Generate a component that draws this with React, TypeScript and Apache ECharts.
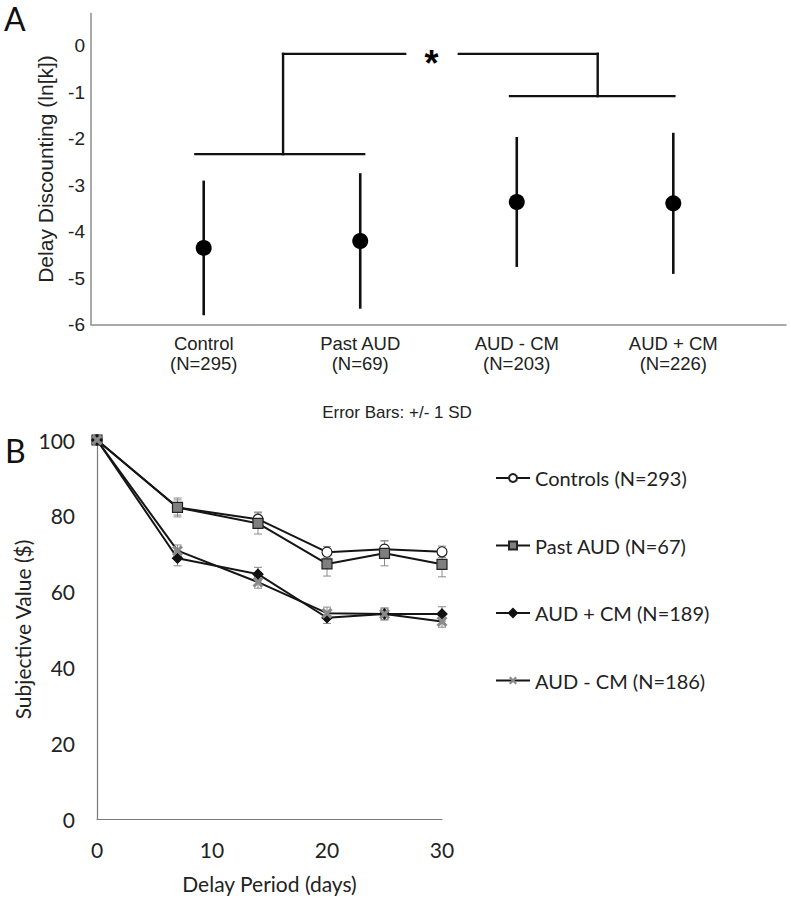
import React, { useEffect, useRef } from "react";
import * as echarts from "echarts";

// ---------- Panel A data ----------
const aGroups = ["Control", "Past AUD", "AUD - CM", "AUD + CM"];
const aN = [295, 69, 203, 226];
const aPositions = [1, 2, 3, 4];
const aMeans = [-4.35, -4.2, -3.36, -3.39];
const aSD = [1.45, 1.46, 1.4, 1.52];
const aYTicks = [-6, -5, -4, -3, -2, -1, 0];
// significance bracket segments [x1, y1, x2, y2] in data units
const bracketSegments = [
  [0.947, -2.33, 2.025, -2.33],
  [1.507, -2.33, 1.507, -0.17],
  [1.507, -0.17, 2.287, -0.17],
  [2.63, -0.17, 3.517, -0.17],
  [3.517, -0.17, 3.517, -1.08],
  [2.957, -1.08, 4.007, -1.08],
];
const starPos = [2.455, -0.38];

// ---------- Panel B data ----------
const bDays = [0, 7, 14, 20, 25, 30];
const bSeriesNames = ["Controls (N=293)", "Past AUD (N=67)", "AUD + CM (N=189)", "AUD - CM (N=186)"];
const controls = [100, 82.2, 79.1, 70.4, 71.2, 70.5];
const pastAUD = [100, 82.2, 78.0, 67.3, 70.1, 67.2];
const audPlusCM = [100, 68.8, 64.6, 53.1, 54.1, 54.1];
const audMinusCM = [100, 70.8, 62.5, 54.3, 54.1, 52.1];
const controlsErr = [0, 2.0, 1.9, 1.5, 2.2, 1.5];
const pastAUDErr = [0, 2.5, 2.8, 3.2, 3.3, 3.3];
const audPlusCMErr = [0, 2.0, 1.8, 1.5, 1.5, 1.9];
const audMinusCMErr = [0, 1.5, 1.6, 1.6, 1.6, 1.5];

const bValues = [controls, pastAUD, audPlusCM, audMinusCM];
const bErrors = [controlsErr, pastAUDErr, audPlusCMErr, audMinusCMErr];

const crossPath =
  "path://M2,0 L5,3 L8,0 L10,2 L7,5 L10,8 L8,10 L5,7 L2,10 L0,8 L3,5 L0,2 Z";
const bSymbols = ["circle", "rect", "diamond", crossPath];
const bFills = ["#ffffff", "#7f7f7f", "#111111", "#8a8a8a"];
const bBorders = ["#222222", "#222222", "#111111", "#8a8a8a"];
const bSizes = [10, 10, 10, 11];

const ARIAL = "'Liberation Sans', Arial, sans-serif";
const LATO = "Lato, sans-serif";

export default function App() {
  const ref = useRef<HTMLDivElement>(null);

  useEffect(() => {
    if (!ref.current) return;
    const chart = echarts.init(ref.current, null, { renderer: "svg" });

    const aErrData = aPositions.map((p, i) => [p, aMeans[i] - aSD[i], aMeans[i] + aSD[i]]);
    const bErrData: number[][] = [];
    bValues.forEach((vals, s) => {
      bDays.forEach((d, i) => {
        if (bErrors[s][i] > 0) bErrData.push([d, vals[i] - bErrors[s][i], vals[i] + bErrors[s][i]]);
      });
    });

    const option: any = {
      animation: false,
      backgroundColor: "#ffffff",
      grid: [
        { left: 91, top: 13.5, width: 695, height: 311, containLabel: false },
        { left: 97, top: 440, width: 345, height: 379, containLabel: false },
      ],
      xAxis: [
        {
          type: "value",
          gridIndex: 0,
          min: 0.28,
          max: 4.72,
          axisLine: { show: true, onZero: false, lineStyle: { color: "#8c8c8c", width: 1.5 } },
          axisTick: { show: false },
          splitLine: { show: false },
          axisLabel: {
            customValues: aPositions,
            formatter: (v: number) => {
              const i = aPositions.indexOf(v);
              return i >= 0 ? `${aGroups[i]}\n(N=${aN[i]})` : "";
            },
            fontFamily: ARIAL,
            fontSize: 18.5,
            lineHeight: 20,
            color: "#222",
            margin: 9,
          },
        },
        {
          type: "value",
          gridIndex: 1,
          min: 0,
          max: 30,
          interval: 10,
          axisLine: { show: true, onZero: false, lineStyle: { color: "#7a7a7a", width: 1.2 } },
          axisTick: { show: false },
          splitLine: { show: false },
          axisLabel: { fontFamily: LATO, fontSize: 21, color: "#222", margin: 20 },
          name: "Delay Period (days)",
          nameLocation: "middle",
          nameGap: 54,
          nameTextStyle: { fontFamily: LATO, fontSize: 21, color: "#222" },
        },
      ],
      yAxis: [
        {
          type: "value",
          gridIndex: 0,
          min: -6,
          max: 0.7,
          interval: 1,
          axisLine: { show: true, onZero: false, lineStyle: { color: "#8c8c8c", width: 1.5 } },
          axisTick: { show: false },
          splitLine: { show: false },
          axisLabel: {
            customValues: aYTicks,
            formatter: (v: number) => (Number.isInteger(v) ? String(v) : ""),
            fontFamily: ARIAL,
            fontSize: 19,
            color: "#222",
            margin: 6,
          },
          name: "Delay Discounting (ln[k])",
          nameLocation: "middle",
          nameRotate: 90,
          nameGap: 35,
          nameTextStyle: { fontFamily: ARIAL, fontSize: 21, color: "#222" },
        },
        {
          type: "value",
          gridIndex: 1,
          min: 0,
          max: 100,
          interval: 20,
          axisLine: { show: true, onZero: false, lineStyle: { color: "#7a7a7a", width: 1.2 } },
          axisTick: { show: false },
          splitLine: { show: false },
          axisLabel: { fontFamily: LATO, fontSize: 21, color: "#222", margin: 22 },
          name: "Subjective Value ($)",
          nameLocation: "middle",
          nameRotate: 90,
          nameGap: 64,
          nameTextStyle: { fontFamily: LATO, fontSize: 21, color: "#222" },
        },
      ],
      legend: {
        data: bSeriesNames,
        orient: "vertical",
        left: 495,
        top: 466,
        padding: 0,
        itemWidth: 34,
        itemHeight: 10,
        itemGap: 43.5,
        textStyle: { fontFamily: LATO, fontSize: 20, color: "#222", lineHeight: 24 },
      },
      graphic: [
        {
          type: "text",
          left: 4,
          top: 2,
          style: { text: "A", font: `32px ${LATO}`, fill: "#111" },
        },
        {
          type: "text",
          left: 5,
          top: 434,
          style: { text: "B", font: `32px ${LATO}`, fill: "#111" },
        },
        {
          type: "text",
          x: 397,
          y: 412,
          style: {
            text: "Error Bars: +/- 1 SD",
            font: `17px ${ARIAL}`,
            fill: "#222",
            textAlign: "center",
            textVerticalAlign: "middle",
          },
        },
      ],
      series: [
        {
          type: "custom",
          name: "aErr",
          xAxisIndex: 0,
          yAxisIndex: 0,
          data: aErrData,
          encode: { x: 0, y: [1, 2] },
          renderItem: (params: any, api: any) => {
            const p1 = api.coord([api.value(0), api.value(1)]);
            const p2 = api.coord([api.value(0), api.value(2)]);
            return {
              type: "line",
              shape: { x1: p1[0], y1: p1[1], x2: p2[0], y2: p2[1] },
              style: { stroke: "#111", lineWidth: 2.6 },
            };
          },
          z: 2,
        },
        {
          type: "scatter",
          name: "aMean",
          xAxisIndex: 0,
          yAxisIndex: 0,
          data: aPositions.map((p, i) => [p, aMeans[i]]),
          symbol: "circle",
          symbolSize: 16,
          itemStyle: { color: "#000", opacity: 1 },
          z: 3,
        },
        {
          type: "custom",
          name: "bracket",
          xAxisIndex: 0,
          yAxisIndex: 0,
          data: bracketSegments,
          encode: { x: [0, 2], y: [1, 3] },
          renderItem: (params: any, api: any) => {
            const p1 = api.coord([api.value(0), api.value(1)]);
            const p2 = api.coord([api.value(2), api.value(3)]);
            return {
              type: "line",
              shape: { x1: p1[0], y1: p1[1], x2: p2[0], y2: p2[1] },
              style: { stroke: "#111", lineWidth: 2.4, lineCap: "square" },
            };
          },
          z: 2,
        },
        {
          type: "scatter",
          name: "star",
          xAxisIndex: 0,
          yAxisIndex: 0,
          data: [starPos],
          symbolSize: 1,
          itemStyle: { color: "rgba(0,0,0,0)", opacity: 1 },
          label: {
            show: true,
            position: "inside",
            formatter: "*",
            fontFamily: ARIAL,
            fontSize: 36,
            fontWeight: "bold",
            color: "#000",
            opacity: 1,
          },
          z: 3,
        },
        {
          type: "custom",
          name: "bErr",
          xAxisIndex: 1,
          yAxisIndex: 1,
          data: bErrData,
          encode: { x: 0, y: [1, 2] },
          renderItem: (params: any, api: any) => {
            const p1 = api.coord([api.value(0), api.value(1)]);
            const p2 = api.coord([api.value(0), api.value(2)]);
            const cap = 4;
            const st = { stroke: "#8a8a8a", lineWidth: 1 };
            return {
              type: "group",
              children: [
                { type: "line", shape: { x1: p1[0], y1: p1[1], x2: p2[0], y2: p2[1] }, style: st },
                { type: "line", shape: { x1: p1[0] - cap, y1: p1[1], x2: p1[0] + cap, y2: p1[1] }, style: st },
                { type: "line", shape: { x1: p2[0] - cap, y1: p2[1], x2: p2[0] + cap, y2: p2[1] }, style: st },
              ],
            };
          },
          z: 1,
        },
        ...bSeriesNames.map((name, s) => ({
          type: "line",
          name,
          xAxisIndex: 1,
          yAxisIndex: 1,
          data: bDays.map((d, i) => [d, bValues[s][i]]),
          symbol: bSymbols[s],
          symbolSize: bSizes[s],
          showAllSymbol: true,
          lineStyle: { color: "#151515", width: 2 },
          itemStyle: { color: bFills[s], borderColor: bBorders[s], borderWidth: s === 3 ? 0 : 1.2 },
          z: 2 + s,
        })),
      ],
    };

    chart.setOption(option);
    return () => chart.dispose();
  }, []);

  return (
    <div
      ref={ref}
      style={{ position: "absolute", left: 0, top: 0, width: 791, height: 900, background: "#fff" }}
    />
  );
}
